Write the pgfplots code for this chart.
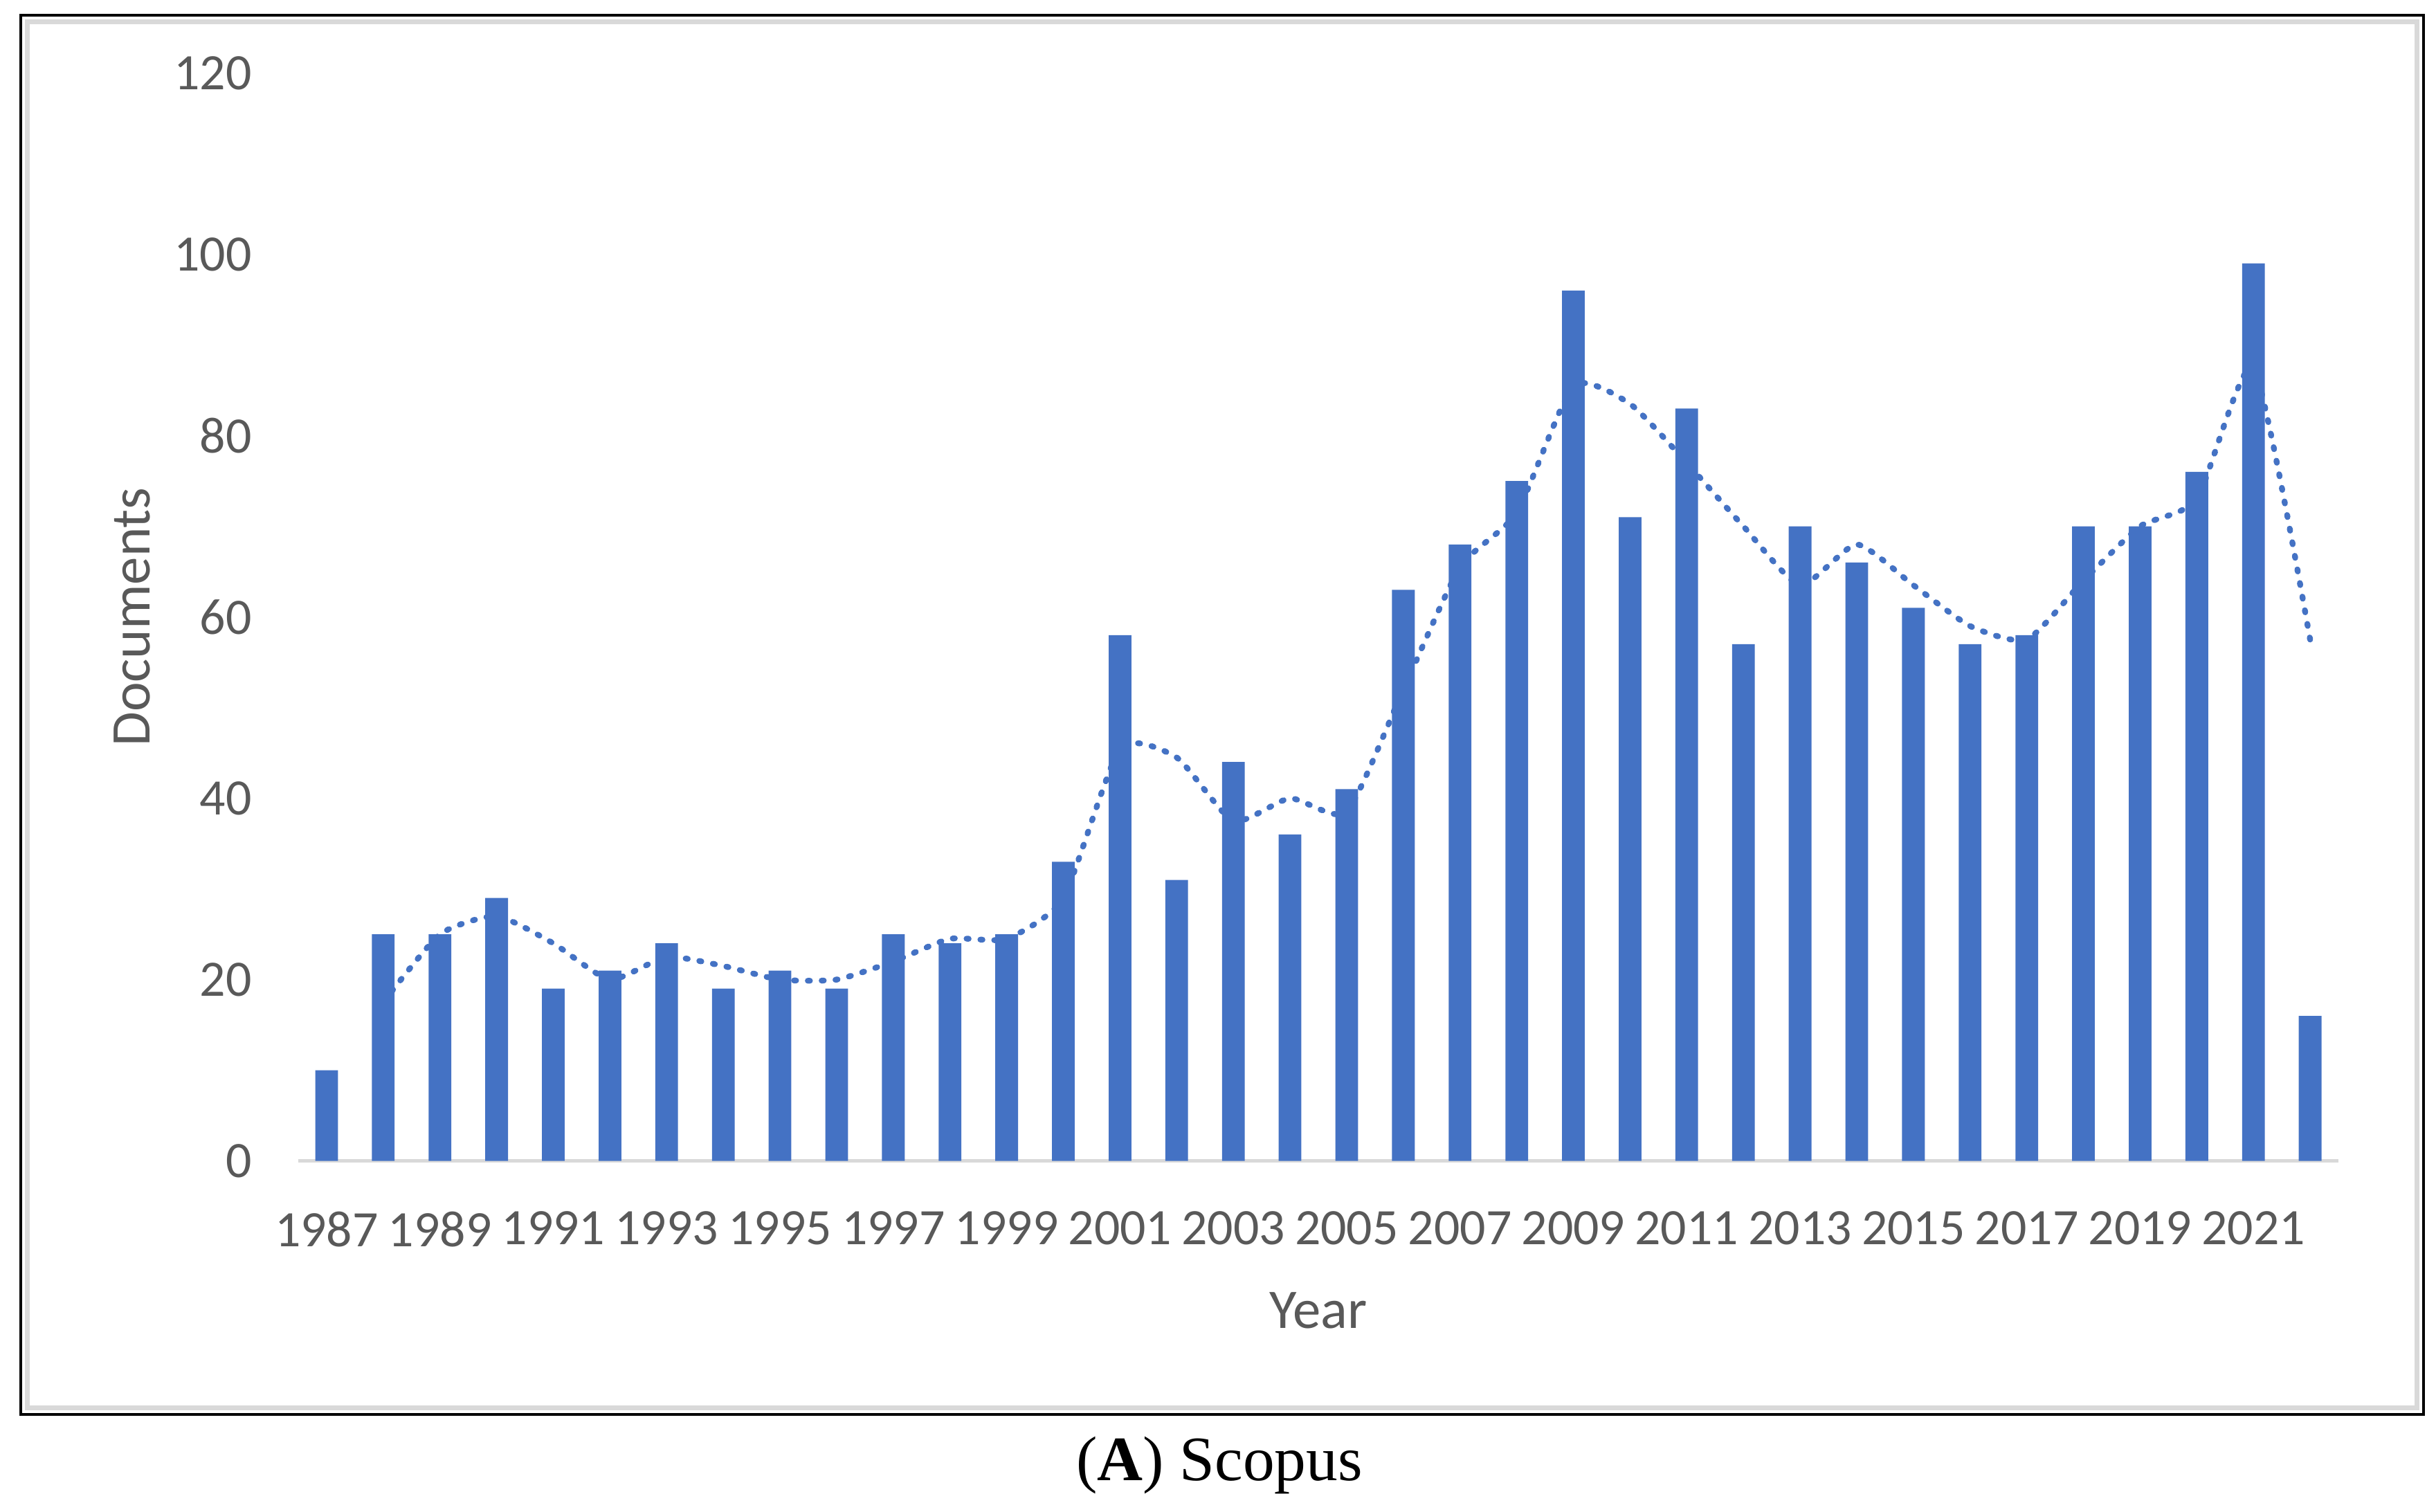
\documentclass[border=0pt]{standalone}
\usepackage{pgfplots}
\pgfplotsset{compat=1.18}
\usepackage{fontspec}
\setmainfont{Carlito}
\newfontfamily\capfont{Liberation Serif}
\definecolor{barblue}{HTML}{4472C4}
\definecolor{txtgray}{HTML}{595959}
\definecolor{axgray}{HTML}{D9D9D9}
\begin{document}
\begin{tikzpicture}[x=1mm,y=1mm]
\path[use as bounding box] (-21.55,-25.32) rectangle (154.45,83.88);
\fill[white] (-21.55,-25.32) rectangle (154.45,83.88);
\draw[axgray, line width=0.35mm] (-19.55,-17.82) rectangle (153.05,82.28);
\draw[black, line width=0.22mm] (-20.05,-18.32) rectangle (153.55,82.78);
\begin{axis}[
  at={(0,0)}, anchor=south west, scale only axis,
  width=147.4mm, height=78.6mm,
  xmin=1986.5, xmax=2022.5, ymin=0, ymax=120,
  axis lines*=left,
  y axis line style={draw=none},
  x axis line style={axgray, line width=0.75pt},
  ytick={0,20,...,120},
  xtick={1987,1989,...,2021},
  major tick length=0pt, tick style={draw=none},
  ticklabel style={font=\fontsize{10.5}{12}\selectfont, text=txtgray},
  /pgf/number format/assume math mode=true,
  /pgf/number format/1000 sep={},
  yticklabel style={anchor=east, inner sep=0pt, xshift=-3.3mm},
  xticklabel style={anchor=north, inner sep=0pt, yshift=-3.6mm},
  xlabel={Year}, ylabel={Documents},
  label style={font=\fontsize{11.5}{13}\selectfont, text=txtgray},
  xlabel style={at={(axis description cs:0.5,-0.1374)}, anchor=center},
  ylabel style={at={(axis description cs:-0.0814,0.5)}, anchor=center},
  clip=false,
]
\addplot[ybar, bar width=1.64mm, fill=barblue, draw=none] coordinates {
(1987,10) (1988,25) (1989,25) (1990,29) (1991,19) (1992,21) (1993,24) (1994,19)
(1995,21) (1996,19) (1997,25) (1998,24) (1999,25) (2000,33) (2001,58) (2002,31)
(2003,44) (2004,36) (2005,41) (2006,63) (2007,68) (2008,75) (2009,96) (2010,71)
(2011,83) (2012,57) (2013,70) (2014,66) (2015,61) (2016,57) (2017,58) (2018,70)
(2019,70) (2020,76) (2021,99) (2022,16)
};
\addplot[barblue, mark=none, line width=0.42mm, smooth, tension=0.35,
  line cap=round, dash pattern=on 0.15mm off 0.85mm] coordinates {
(1988,17.5) (1989,25) (1990,27) (1991,24) (1992,20) (1993,22.5) (1994,21.5)
(1995,20) (1996,20) (1997,22) (1998,24.5) (1999,24.5) (2000,29) (2001,45.5)
(2002,44.5) (2003,37.5) (2004,40) (2005,38.5) (2006,52) (2007,65.5) (2008,71.5)
(2009,85.5) (2010,83.5) (2011,77) (2012,70) (2013,63.5) (2014,68) (2015,63.5)
(2016,59) (2017,57.5) (2018,64) (2019,70) (2020,73) (2021,87.5) (2022,57.5)
};
\end{axis}
\node[font=\capfont\fontsize{13}{15}\selectfont, text=black] at (66.55,-22.0) {(\textbf{A}) Scopus};
\end{tikzpicture}
\end{document}
